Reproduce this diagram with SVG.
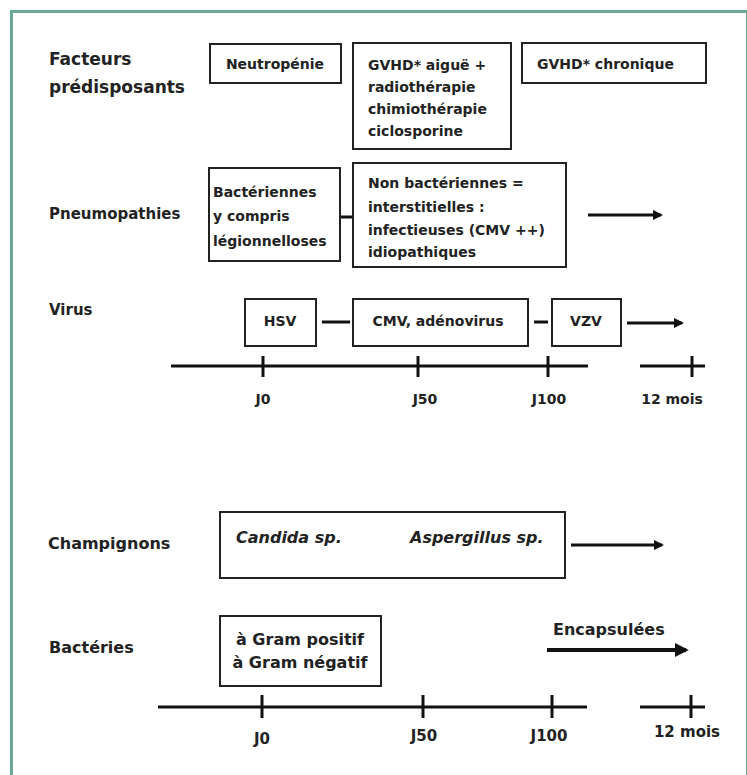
<svg xmlns="http://www.w3.org/2000/svg" width="747" height="775" viewBox="0 0 747 775">
<defs>
<style>
text{font-family:"DejaVu Sans","Liberation Sans",Arial,sans-serif;font-weight:bold;font-size:14px;fill:#222}
.big{font-size:17px}
.lab{font-size:15px}
.lab2{font-size:16px}
.b16{font-size:16px}
.it{font-style:italic;font-size:16px}
.mid{text-anchor:middle}
.box{fill:#fff;stroke:#222;stroke-width:2}
.ln{stroke:#111;stroke-width:3;fill:none}
.ar{stroke:#111;stroke-width:3;fill:none;marker-end:url(#ah)}
</style>
<marker id="ah" viewBox="0 0 10 10" refX="8" refY="5" markerWidth="3.5" markerHeight="3.5" orient="auto" markerUnits="strokeWidth">
<path d="M0,0 L10,5 L0,10 z" fill="#111"/>
</marker>
</defs>
<rect x="0" y="0" width="747" height="775" fill="#fff"/>
<rect x="11.5" y="11.5" width="736" height="780" fill="none" stroke="#6aa88f" stroke-width="3"/>

<g id="labels">
<text class="big" x="49" y="65">Facteurs</text>
<text class="big" x="49" y="93">prédisposants</text>
<text class="lab" x="49" y="219">Pneumopathies</text>
<text class="lab" x="49" y="315">Virus</text>
<text class="lab2" x="48" y="549">Champignons</text>
<text class="lab2" x="49" y="653">Bactéries</text>
</g>

<g id="neutropenie"><rect class="box" x="210" y="44" width="131" height="39"/><text class="mid" x="275" y="69">Neutropénie</text></g>
<g id="gvhd-aigue"><rect class="box" x="353" y="43" width="158" height="106"/>
<text x="368" y="70">GVHD* aiguë +</text><text x="368" y="92">radiothérapie</text><text x="368" y="114">chimiothérapie</text><text x="368" y="136">ciclosporine</text></g>
<g id="gvhd-chronique"><rect class="box" x="522" y="43" width="184" height="40"/><text x="537" y="69">GVHD* chronique</text></g>

<g id="bacteriennes"><rect class="box" x="209" y="168" width="131" height="93"/>
<text x="213" y="197">Bactériennes</text><text x="213" y="221">y compris</text><text x="213" y="246">légionnelloses</text></g>
<g id="non-bacteriennes"><rect class="box" x="353" y="163" width="213" height="104"/>
<text x="368" y="188">Non bactériennes =</text><text x="368" y="212">interstitielles :</text><text x="368" y="235">infectieuses (CMV ++)</text><text x="368" y="257">idiopathiques</text></g>

<g id="hsv"><rect class="box" x="245" y="299" width="71" height="47"/><text class="mid" x="280" y="326">HSV</text></g>
<g id="cmv"><rect class="box" x="353" y="299" width="175" height="47"/><text class="mid" x="438" y="326">CMV, adénovirus</text></g>
<g id="vzv"><rect class="box" x="552" y="299" width="69" height="47"/><text class="mid" x="586" y="326">VZV</text></g>

<g id="champignons"><rect class="box" x="220" y="512" width="345" height="66"/>
<text class="it" x="236" y="543">Candida sp.</text><text class="it" x="410" y="543">Aspergillus sp.</text></g>

<g id="bacteries"><rect class="box" x="220" y="616" width="161" height="70"/>
<text class="mid b16" x="300" y="645">à Gram positif</text><text class="mid b16" x="300" y="668">à Gram négatif</text></g>

<g id="encapsulees"><text class="b16" x="553" y="635">Encapsulées</text></g>

<g id="timeline1">
<line class="ln" x1="171" y1="366" x2="588" y2="366"/>
<line class="ln" x1="263" y1="356" x2="263" y2="377"/>
<line class="ln" x1="418" y1="356" x2="418" y2="377"/>
<line class="ln" x1="548" y1="356" x2="548" y2="377"/>
<line class="ln" x1="640" y1="366" x2="705" y2="366"/>
<line class="ln" x1="692" y1="356" x2="692" y2="377"/>
<text class="mid" x="263" y="404">J0</text>
<text class="mid" x="425" y="404">J50</text>
<text class="mid" x="549" y="404">J100</text>
<text class="mid" x="672" y="404">12 mois</text>
</g>

<g id="timeline2">
<line class="ln" x1="158" y1="707" x2="587" y2="707"/>
<line class="ln" x1="262" y1="695" x2="262" y2="718"/>
<line class="ln" x1="423" y1="695" x2="423" y2="718"/>
<line class="ln" x1="552" y1="695" x2="552" y2="718"/>
<line class="ln" x1="640" y1="707" x2="705" y2="707"/>
<line class="ln" x1="691" y1="695" x2="691" y2="718"/>
<text class="mid lab" x="262" y="744">J0</text>
<text class="mid lab" x="424" y="741">J50</text>
<text class="mid lab" x="549" y="741">J100</text>
<text class="mid lab" x="687" y="737">12 mois</text>
</g>

<g id="connectors">
<line class="ln" x1="341" y1="217" x2="352" y2="217"/>
<line class="ar" x1="588" y1="215" x2="661" y2="215"/>
<line class="ln" x1="322" y1="322" x2="350" y2="322"/>
<line class="ln" x1="534" y1="322" x2="548" y2="322"/>
<line class="ar" x1="627" y1="323" x2="682" y2="323"/>
<line class="ar" x1="571" y1="545" x2="662" y2="545"/>
<line class="ar" x1="547" y1="650" x2="686" y2="650" style="stroke-width:4"/>
</g>
</svg>
